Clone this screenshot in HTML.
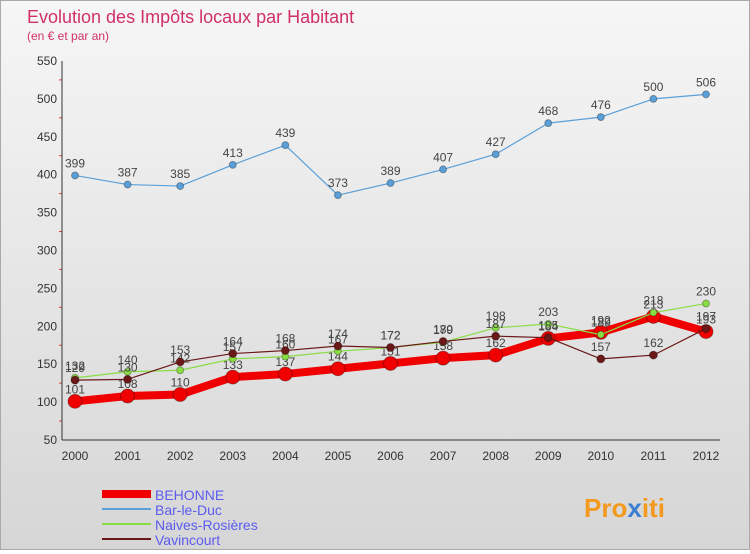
<!DOCTYPE html>
<html><head><meta charset="utf-8"><style>
body{margin:0;width:750px;height:550px;overflow:hidden;font-family:"Liberation Sans",sans-serif}
#wrap{position:relative;width:748px;height:548px;border:1px solid #aaa;background:linear-gradient(#f6f6f6,#d6d6d6)}
</style></head><body>
<div id="wrap">
<svg id="chart" width="748" height="548">
<text x="26" y="22" font-size="18" fill="#d0306a">Evolution des Impôts locaux par Habitant</text>
<text x="26" y="39" font-size="12" fill="#d0306a">(en € et par an)</text>
<g id="axes"></g><g id="series"></g>
<text x="583" y="516" font-size="26" font-weight="bold" fill="#f39a1e">Pro<tspan fill="#3a7fd0">x</tspan>iti</text>
</svg></div>
<script>
const years=[2000,2001,2002,2003,2004,2005,2006,2007,2008,2009,2010,2011,2012];
const yTicks=[50,100,150,200,250,300,350,400,450,500,550];
const behonne=[101,108,110,133,137,144,151,158,162,184,192,213,193];
const barleduc=[399,387,385,413,439,373,389,407,427,468,476,500,506];
const naives=[132,140,142,157,160,167,172,179,198,203,189,218,230];
const vavincourt=[129,130,153,164,168,174,172,180,187,185,157,162,197];
const names=['BEHONNE','Bar-le-Duc','Naives-Rosières','Vavincourt'];
const NS='http://www.w3.org/2000/svg';
const x0=61,x1=719,y0=439,y1=60;
function xs(i){return 74+i*(705-74)/(years.length-1);}
function ys(v){return y0-(v-50)*(y0-y1)/500;}
function mk(t,a,p){const e=document.createElementNS(NS,t);for(const k in a)e.setAttribute(k,a[k]);p.appendChild(e);return e;}
const ax=document.getElementById('axes'),sg=document.getElementById('series');
yTicks.forEach(v=>{const y=ys(v);
const t=mk('text',{x:x0-5,y:y+4,'font-size':12,'text-anchor':'end',fill:'#333'},ax);t.textContent=v;


if(v<550){const m=mk('line',{x1:x0-3,x2:x0,y1:y-19,y2:y-19,stroke:'#d44'},ax);

}});
mk('line',{x1:x0,x2:x0,y1:y1,y2:y0,stroke:'#333'},ax);
mk('line',{x1:x0,x2:x1,y1:y0,y2:y0,stroke:'#333'},ax);
years.forEach((yr,i)=>{const t=mk('text',{x:xs(i),y:y0+20,'font-size':12,'text-anchor':'middle',fill:'#333'},ax);t.textContent=yr;

});
function draw(data,color,w,r,key){
const g=mk('g',{},sg);


mk('polyline',{points:data.map((v,i)=>xs(i)+','+ys(v)).join(' '),fill:'none',stroke:color,'stroke-width':w,'stroke-linejoin':'round'},g);
data.forEach((v,i)=>{const c=mk('circle',{cx:xs(i),cy:ys(v),r:r,fill:color,stroke:'rgba(0,0,0,0.3)'},g);


const t=mk('text',{x:xs(i),y:ys(v)-8,'font-size':12,'text-anchor':'middle',fill:'#444'},g);t.textContent=v;

});}
draw(barleduc,'#5a9fd8',1.2,3.5,'bar-le-duc');
draw(behonne,'#f00000',8,7,'behonne');
draw(naives,'#88dd44',1.2,3.5,'naives-rosieres');
draw(vavincourt,'#6b1818',1.2,4,'vavincourt');
const lc=['#f00000','#5a9fd8','#88dd44','#6b1818'],lw=[8,2,2,2];
names.forEach((n,i)=>{const y=493+i*15;
const l=mk('line',{x1:101,x2:150,y1:y,y2:y,stroke:lc[i],'stroke-width':lw[i]},sg);


const t=mk('text',{x:154,y:y+6,'font-size':14,fill:'#5b5bf0'},sg);t.textContent=n;

});
</script>
</body></html>
